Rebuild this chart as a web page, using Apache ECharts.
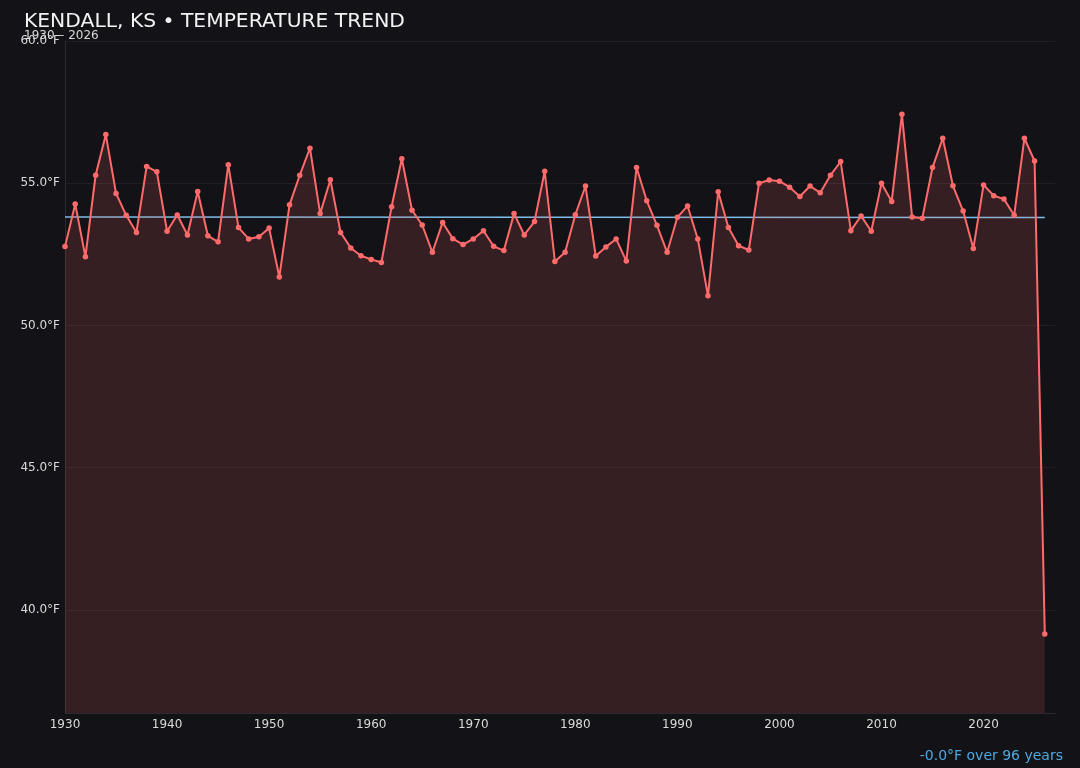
<!DOCTYPE html>
<html>
<head>
<meta charset="utf-8">
<script src="https://cdn.jsdelivr.net/npm/echarts@6/dist/echarts.min.js"></script>
<style>
html,body{margin:0;padding:0;background:#131217;}
#chart{width:1080px;height:768px;}
</style>
</head>
<body>
<div id="chart"></div>
<script>
var years = [];
for (var y = 1930; y <= 2026; y++) years.push(y);

var temps = [
  52.77, 54.27, 52.41, 55.28, 56.71, 54.64, 53.87, 53.27, 55.59, 55.40,
  53.31, 53.88, 53.18, 54.71, 53.15, 52.94, 55.65, 53.44, 53.04, 53.12,
  53.42, 51.70, 54.24, 55.28, 56.23, 53.93, 55.12, 53.27, 52.72, 52.45,
  52.32, 52.21, 54.17, 55.86, 54.05, 53.53, 52.57, 53.62, 53.05, 52.84,
  53.04, 53.33, 52.78, 52.63, 53.93, 53.18, 53.65, 55.42, 52.25, 52.57,
  53.89, 54.90, 52.44, 52.76, 53.04, 52.26, 55.55, 54.38, 53.52, 52.57,
  53.80, 54.20, 53.04, 51.04, 54.70, 53.44, 52.80, 52.65, 55.00, 55.11,
  55.07, 54.86, 54.53, 54.90, 54.66, 55.28, 55.76, 53.33, 53.85, 53.31,
  55.00, 54.36, 57.42, 53.81, 53.77, 55.55, 56.58, 54.91, 54.02, 52.70,
  54.94, 54.56, 54.44, 53.87, 56.58, 55.78, 39.15
];

var trendYears = [1930, 2026];
var trendValues = [53.81, 53.79];

var xTicks = [1930, 1940, 1950, 1960, 1970, 1980, 1990, 2000, 2010, 2020];
var yTicks = [40, 45, 50, 55, 60];

var titleText = 'KENDALL, KS • TEMPERATURE TREND';
var subtitleText = '1930 – 2026';
var changeText = '-0.0°F over 96 years';

var mainData = years.map(function (yr, i) { return [yr, temps[i]]; });
var trendData = trendYears.map(function (yr, i) { return [yr, trendValues[i]]; });

var chart = echarts.init(document.getElementById('chart'), null, {renderer: 'canvas'});
var font = '"DejaVu Sans", sans-serif';

chart.setOption({
  backgroundColor: '#131217',
  animation: false,
  title: [{
    text: titleText,
    left: 24,
    top: 12,
    padding: 0,
    textStyle: {color: '#f2f2f2', fontSize: 20.3, fontWeight: 'normal', fontFamily: font}
  }, {
    text: subtitleText,
    left: 24,
    top: 30,
    padding: 0,
    textStyle: {color: '#d8d8d8', fontSize: 12, fontWeight: 'normal', fontFamily: font}
  }],
  graphic: [{
    type: 'text',
    right: 17,
    top: 749,
    style: {text: changeText, fill: '#4da9e0', font: '14px "DejaVu Sans", sans-serif', textAlign: 'right'}
  }],
  grid: {left: 65, right: 25, top: 41, bottom: 55, containLabel: false},
  xAxis: {
    type: 'value',
    min: 1930,
    max: 2027,
    axisLine: {show: true, lineStyle: {color: '#2a2a30', width: 1}},
    axisTick: {show: false, customValues: xTicks},
    splitLine: {show: false},
    axisLabel: {
      customValues: xTicks,
      color: '#dadada', fontSize: 12, fontFamily: font, margin: 6,
      formatter: function (v) { return String(v); }
    }
  },
  yAxis: {
    type: 'value',
    min: 36.37,
    max: 60,
    axisLine: {show: true, lineStyle: {color: '#2a2a30', width: 1}},
    axisTick: {show: false, customValues: yTicks},
    splitLine: {show: true, lineStyle: {color: '#241e24', width: 1}},
    axisLabel: {
      customValues: yTicks,
      color: '#dadada', fontSize: 12, fontFamily: font, margin: 5,
      formatter: function (v) { return v.toFixed(1) + '°F'; }
    }
  },
  series: [{
    type: 'line',
    data: mainData,
    symbol: 'circle',
    symbolSize: 5.5,
    itemStyle: {color: '#ff6b6b'},
    lineStyle: {color: '#ff6b6b', width: 2},
    areaStyle: {color: 'rgba(255,107,107,0.15)', opacity: 1, origin: 'start'},
    z: 3
  }, {
    type: 'line',
    data: trendData,
    symbol: 'none',
    lineStyle: {color: '#7dbde6', width: 1.5},
    z: 2
  }]
});
</script>
</body>
</html>
